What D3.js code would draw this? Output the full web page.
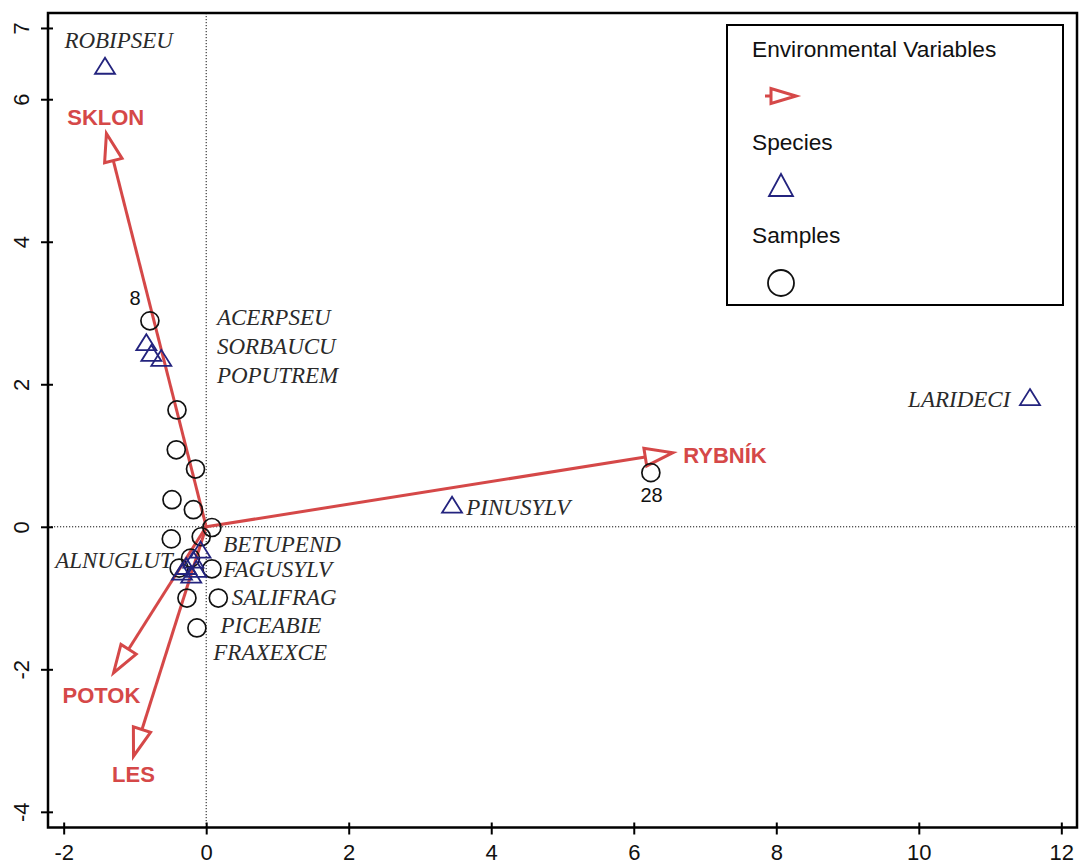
<!DOCTYPE html>
<html><head><meta charset="utf-8">
<script src="https://cdn.jsdelivr.net/npm/d3@7"></script>
<style>body{margin:0;background:#fff}</style>
</head><body><svg id="c" width="1079" height="866"></svg>
<script>
// ---- data ----
const xTicks = [-2, 0, 2, 4, 6, 8, 10, 12];
const yTicks = [-4, -2, 0, 2, 4, 6, 7];

const sampleX = [-0.79, -0.41, -0.42, -0.15, -0.48, -0.18, 0.08, -0.49, -0.07, -0.22, -0.38, 0.08, -0.27, 0.17, -0.13, 6.24];
const sampleY = [2.89, 1.64, 1.08, 0.81, 0.38, 0.24, -0.01, -0.17, -0.14, -0.44, -0.58, -0.59, -1.00, -1.00, -1.42, 0.76];
const sampleLabels = ["8", "", "", "", "", "", "", "", "", "", "", "", "", "", "", "28"];
const sampleLabelX = [-1.00, null, null, null, null, null, null, null, null, null, null, null, null, null, null, 6.25];
const sampleLabelY = [3.21, null, null, null, null, null, null, null, null, null, null, null, null, null, null, 0.45];

const speciesNames = ["ROBIPSEU", "ACERPSEU", "SORBAUCU", "POPUTREM", "LARIDECI", "PINUSYLV", "BETUPEND", "FAGUSYLV", "SALIFRAG", "PICEABIE", "FRAXEXCE", "ALNUGLUT"];
const speciesX = [-1.42, -0.84, -0.77, -0.63, 11.56, 3.45, -0.08, -0.14, -0.21, -0.28, -0.18, -0.34];
const speciesY = [6.47, 2.59, 2.44, 2.37, 1.82, 0.31, -0.32, -0.59, -0.67, -0.55, -0.46, -0.63];
const speciesLabelX = [-1.99, 0.15, 0.15, 0.15, 9.85, 3.65, 0.24, 0.24, 0.36, 0.20, 0.10, -2.12];
const speciesLabelY = [6.83, 2.93, 2.53, 2.13, 1.78, 0.27, -0.25, -0.60, -0.99, -1.39, -1.77, -0.48];

const envNames = ["SKLON", "RYBNÍK", "POTOK", "LES"];
const envX = [-1.40, 6.55, -1.30, -1.02];
const envY = [5.52, 1.04, -2.05, -3.22];
const envLabelX = [-1.41, 7.28, -1.47, -1.02];
const envLabelY = [5.74, 1.00, -2.37, -3.48];

const legendLabels = ["Environmental Variables", "Species", "Samples"];

// ---- styles ----
const RED = "#d54848";
const NAVY = "#23237e";
const SANS = "'Liberation Sans', Arial, sans-serif";
const SERIF = "'Liberation Serif', 'Times New Roman', serif";

const svg = d3.select("#c");
const x = d3.scaleLinear().domain([-2.22, 12.22]).range([48, 1077]);
const y = d3.scaleLinear().domain([-4.22, 7.21]).range([827.5, 13]);

// zero lines
svg.append("line").attr("x1", x(0)).attr("x2", x(0)).attr("y1", y(7.21)).attr("y2", y(-4.22))
  .attr("stroke", "#111").attr("stroke-width", 1).attr("stroke-dasharray", "1.2,1.8");
svg.append("line").attr("x1", x(-2.22)).attr("x2", x(12.22)).attr("y1", y(0)).attr("y2", y(0))
  .attr("stroke", "#111").attr("stroke-width", 1).attr("stroke-dasharray", "1.2,1.8");

// axes
const fmt = d => String(d);
const xAxis = svg.append("g").attr("transform", `translate(0,${y(-4.22)})`)
  .call(d3.axisBottom(x).tickValues(xTicks).tickSize(7).tickPadding(10).tickFormat(fmt));
const yAxis = svg.append("g").attr("transform", `translate(${x(-2.22)},0)`)
  .call(d3.axisLeft(y).tickValues(yTicks).tickSize(7).tickFormat(fmt));
[xAxis, yAxis].forEach(g => {
  g.select(".domain").remove();
  g.selectAll(".tick line").attr("stroke", "#000").attr("stroke-width", 2);
  g.selectAll("text").attr("font-family", SANS).attr("font-size", 22).attr("fill", "#111");
});
xAxis.selectAll(".tick line").attr("y1", -5);
yAxis.selectAll(".tick line").attr("x1", 5);
yAxis.selectAll(".tick text").attr("transform", "rotate(-90)")
  .attr("text-anchor", "middle").attr("x", 0).attr("y", -27).attr("dy", "0.35em");

// frame
svg.append("rect").attr("x", x(-2.22)).attr("y", y(7.21))
  .attr("width", x(12.22) - x(-2.22)).attr("height", y(-4.22) - y(7.21))
  .attr("fill", "none").attr("stroke", "#000").attr("stroke-width", 2.5);

// env arrows
function arrow(g, x0, y0, x1, y1, L, W, sw) {
  const dx = x1 - x0, dy = y1 - y0, len = Math.hypot(dx, dy);
  const ux = dx / len, uy = dy / len;
  const bx = x1 - ux * L, by = y1 - uy * L;
  const nx = -uy, ny = ux;
  g.append("line").attr("x1", x0).attr("y1", y0).attr("x2", bx).attr("y2", by)
    .attr("stroke", RED).attr("stroke-width", sw);
  g.append("path").attr("d", `M${x1},${y1}L${bx + nx * W},${by + ny * W}L${bx - nx * W},${by - ny * W}Z`)
    .attr("fill", "#fff").attr("stroke", RED).attr("stroke-width", sw).attr("stroke-linejoin", "miter");
}
const envG = svg.append("g");
envNames.forEach((n, i) => arrow(envG, x(0), y(0), x(envX[i]), y(envY[i]), 28, 9, 3));
envG.selectAll("text.env").data(envNames).join("text").attr("class", "env")
  .attr("x", (d, i) => x(envLabelX[i])).attr("y", (d, i) => y(envLabelY[i]))
  .attr("text-anchor", "middle").attr("dominant-baseline", "central")
  .attr("font-family", SANS).attr("font-weight", "bold").attr("font-size", 22).attr("fill", RED)
  .text(d => d);

// samples
const sampG = svg.append("g");
sampG.selectAll("circle").data(sampleX).join("circle")
  .attr("cx", (d, i) => x(sampleX[i])).attr("cy", (d, i) => y(sampleY[i])).attr("r", 9)
  .attr("fill", "none").attr("stroke", "#111").attr("stroke-width", 1.7);
sampG.selectAll("text").data(sampleLabels.filter(d => d)).join("text")
  .attr("x", d => x(sampleLabelX[sampleLabels.indexOf(d)]))
  .attr("y", d => y(sampleLabelY[sampleLabels.indexOf(d)]))
  .attr("text-anchor", "middle").attr("dominant-baseline", "central")
  .attr("font-family", SANS).attr("font-size", 20).attr("fill", "#111").text(d => d);

// species
const triPath = (cx, cy, hw, h) => `M${cx},${cy - h / 2}L${cx + hw},${cy + h / 2}L${cx - hw},${cy + h / 2}Z`;
const spG = svg.append("g");
spG.selectAll("path").data(speciesNames).join("path")
  .attr("d", (d, i) => triPath(x(speciesX[i]), y(speciesY[i]), 10, 16))
  .attr("fill", "none").attr("stroke", NAVY).attr("stroke-width", 1.8);
spG.selectAll("text").data(speciesNames).join("text")
  .attr("x", (d, i) => x(speciesLabelX[i])).attr("y", (d, i) => y(speciesLabelY[i]))
  .attr("dominant-baseline", "central")
  .attr("font-family", SERIF).attr("font-style", "italic").attr("font-size", 23).attr("fill", "#2a2a2a")
  .text(d => d);

// legend
const lg = svg.append("g");
lg.append("rect").attr("x", 727).attr("y", 25).attr("width", 336).attr("height", 280)
  .attr("fill", "#fff").attr("stroke", "#000").attr("stroke-width", 2);
lg.selectAll("text").data(legendLabels).join("text")
  .attr("x", 752).attr("y", (d, i) => 57 + i * 93)
  .attr("font-family", SANS).attr("font-size", 22.7).attr("fill", "#111").text(d => d);
arrow(lg, 765, 96, 796, 96, 25, 7.5, 3);
lg.append("path").attr("d", triPath(781, 185, 12, 22)).attr("fill", "none").attr("stroke", NAVY).attr("stroke-width", 1.8);
lg.append("circle").attr("cx", 781).attr("cy", 283).attr("r", 13).attr("fill", "none").attr("stroke", "#111").attr("stroke-width", 1.8);
</script>
</body></html>
